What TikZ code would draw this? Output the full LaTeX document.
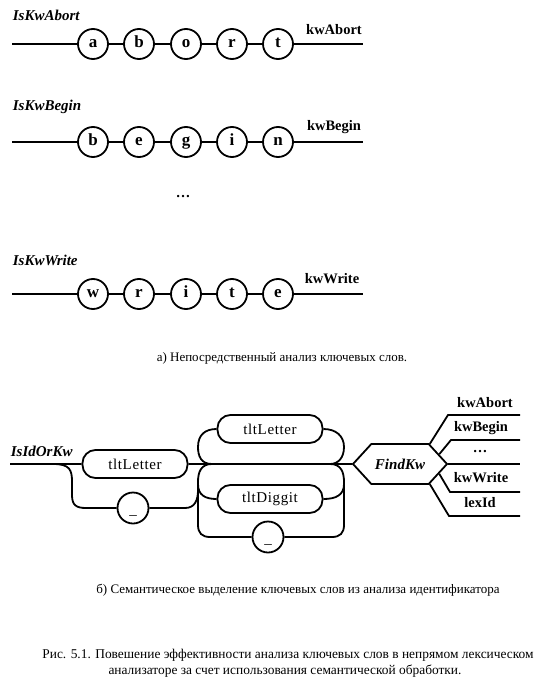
\documentclass[tikz,border=0pt]{standalone}
\usepackage{fontspec}
\setmainfont{Liberation Serif}
\usetikzlibrary{shapes.symbols}

\begin{document}
\begin{tikzpicture}[x=1pt, y=-1pt, line width=1.8pt,
  letter/.style={circle, draw, minimum size=30pt, inner sep=0pt, text height=10pt, text depth=3pt, font=\fontsize{17}{19}\selectfont\bfseries},
  rulename/.style={anchor=west, inner sep=0pt, font=\fontsize{15}{17}\selectfont\bfseries\itshape},
  outname/.style={inner sep=0pt, font=\fontsize{14.5}{16}\selectfont\bfseries},
  termbox/.style={draw, rounded corners=13pt, minimum width=105pt, minimum height=28pt, inner sep=0pt, font=\fontsize{15}{17}\selectfont\addfontfeatures{LetterSpace=4}},
  sepcirc/.style={circle, draw, minimum size=31pt, inner sep=0pt, text height=12pt, text depth=0pt, font=\fontsize{15}{17}\selectfont},
  hexa/.style={shape=signal, signal to=east and west, signal pointer angle=95, draw, minimum width=94pt, minimum height=40pt, inner sep=0pt, font=\fontsize{15}{17}\selectfont\bfseries\itshape},
  caption/.style={inner sep=0pt, font=\fontsize{13}{16}\selectfont},
  figcaption/.style={inner sep=0pt, font=\fontsize{13.4}{16}\selectfont}]

\useasboundingbox (0,0) rectangle (559,690);

% a) direct keyword analysis
\node[rulename] (ruleA) at (12,15) {IsKwAbort};
\coordinate (inA) at (12,44); \coordinate (outA) at (363,44);
\node[letter] (a1) at (93,44) {a}; \node[letter] (a2) at (139,44) {b};
\node[letter] (a3) at (186,44) {o}; \node[letter] (a4) at (232,44) {r};
\node[letter] (a5) at (278,44) {t};
\node[outname] (kwA) at (334,30) {kwAbort};
\draw (inA) -- (a1) -- (a2) -- (a3) -- (a4) -- (a5) -- (outA);

\node[rulename] (ruleB) at (12,107) {IsKwBegin};
\coordinate (inB) at (12,142); \coordinate (outB) at (363,142);
\node[letter] (b1) at (93,142) {b}; \node[letter] (b2) at (139,142) {e};
\node[letter] (b3) at (186,142) {g}; \node[letter] (b4) at (232,142) {i};
\node[letter] (b5) at (278,142) {n};
\node[outname] (kwB) at (334,127) {kwBegin};
\draw (inB) -- (b1) -- (b2) -- (b3) -- (b4) -- (b5) -- (outB);

\node[outname] (skip) at (183,197) {\dots};

\node[rulename] (ruleW) at (12,260) {IsKwWrite};
\coordinate (inW) at (12,294); \coordinate (outW) at (363,294);
\node[letter] (w1) at (93,294) {w}; \node[letter] (w2) at (139,294) {r};
\node[letter] (w3) at (186,294) {i}; \node[letter] (w4) at (232,294) {t};
\node[letter] (w5) at (278,294) {e};
\node[outname] (kwW) at (332,279) {kwWrite};
\draw (inW) -- (w1) -- (w2) -- (w3) -- (w4) -- (w5) -- (outW);

\node[caption] (capA) at (282,358) {а) Непосредственный анализ ключевых слов.};

% b) semantic selection from identifier
\node[rulename] (ruleId) at (10,451) {IsIdOrKw};
\coordinate (inId) at (10,464);
\coordinate (br1) at (53,464);
\coordinate (j1) at (212,464); \coordinate (j2) at (330,464);
\node[termbox] (let1) at (135,464) {tltLetter};
\node[sepcirc] (und1) at (133,508) {\_};
\node[termbox] (let2) at (270,429) {tltLetter};
\node[termbox] (dig) at (270,499) {tltDiggit};
\node[sepcirc] (und2) at (268,537) {\_};
\node[hexa] (fk) at (400,464) {FindKw};

\draw (inId) -- (let1) -- (fk);
\draw (br1) .. controls (70,464) and (72,470) .. (72,482) -- (72,495)
  .. controls (72,505) and (76,508) .. (86,508) -- (und1) -- (185,508)
  .. controls (195,508) and (198,500) .. (198,490);
\draw (j1) .. controls (201,464) and (198,456) .. (198,447)
  .. controls (198,435) and (205,429) .. (let2.west);
\draw (let2.east) .. controls (336,429) and (344,436) .. (344,447)
  .. controls (344,458) and (338,464) .. (j2);
\draw (j1) .. controls (201,464) and (198,472) .. (198,482) -- (198,525)
  .. controls (198,533) and (202,537) .. (210,537) -- (und2) -- (332,537)
  .. controls (340,537) and (344,533) .. (344,525) -- (344,482)
  .. controls (344,472) and (341,464) .. (j2);
\draw (198,484) .. controls (198,495) and (205,499) .. (dig.west);
\draw (dig.east) .. controls (336,499) and (344,495) .. (344,484);

\coordinate (oA) at (520,415); \coordinate (oB) at (520,440);
\coordinate (oD) at (520,464); \coordinate (oW) at (520,492);
\coordinate (oL) at (520,516);
\draw (fk.34) -- (448,415) -- (oA);
\draw (fk.14) -- (451,440) -- (oB);
\draw (fk.east) -- (oD);
\draw (fk.-14) -- (450,492) -- (oW);
\draw (fk.-34) -- (449,516) -- (oL);
\node[outname] (fA) at (485,403) {kwAbort};
\node[outname] (fB) at (481,428) {kwBegin};
\node[outname] (fD) at (480,452) {\dots};
\node[outname] (fW) at (481,478) {kwWrite};
\node[outname] (fL) at (480,503) {lexId};

\node[caption] (capB) at (298,590) {б) Семантическое выделение ключевых слов из анализа идентификатора};
\node[figcaption] (fig1) at (288,655) {Рис. 5.1. Повешение эффективности анализа ключевых слов в непрямом лексическом};
\node[figcaption] (fig2) at (285,671) {анализаторе за счет использования семантической обработки.};

\end{tikzpicture}
\end{document}
